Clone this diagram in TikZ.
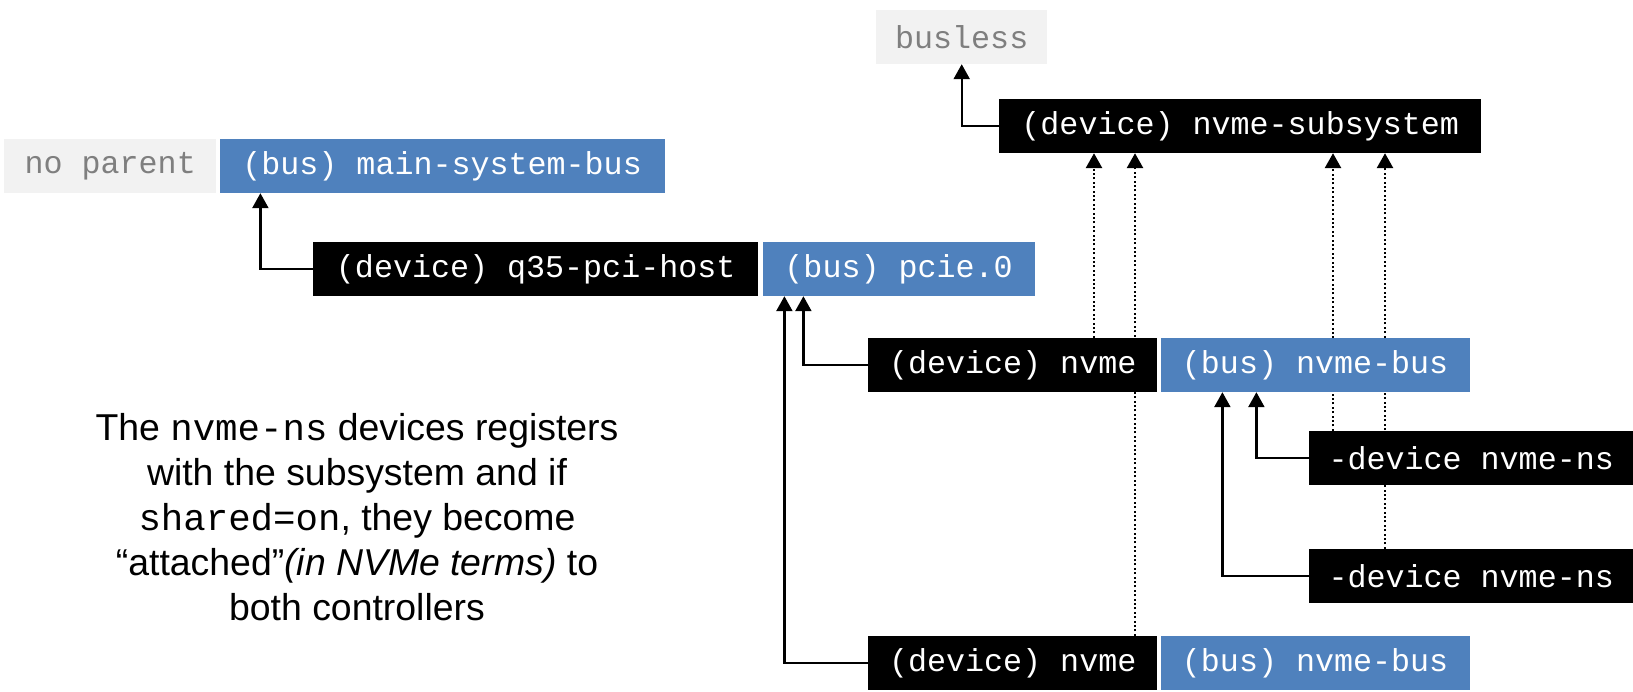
\documentclass[tikz,border=0pt]{standalone}
\usepackage{fontspec}
\setmainfont{Liberation Sans}
\setmonofont{Liberation Mono}
\usetikzlibrary{arrows.meta,positioning,backgrounds}

\definecolor{busblue}{HTML}{4F81BD}
\definecolor{nonefill}{HTML}{F2F2F2}
\definecolor{nonetext}{HTML}{7F7F7F}

\begin{document}
\begin{tikzpicture}[
  x=1pt,y=-1pt,
  >={Triangle[length=15pt,width=16pt]},
  box/.style={anchor=west, inner xsep=0pt, inner ysep=0pt, minimum height=54pt,
    font=\fontsize{31.7}{38}\selectfont\ttfamily},
  dev/.style={box, fill=black, text=white},
  busbox/.style={box, fill=busblue, text=white},
  nobus/.style={box, fill=nonefill, text=nonetext},
  link/.style={->, line width=2.3pt},
  reg/.style={->, line width=2.8pt, dash pattern=on 2pt off 2.4pt},
]
\useasboundingbox (0,0) rectangle (1633,691);

%% ---------- device / bus tree ----------
\node[nobus, minimum width=171pt] (busless) at (876,37) {busless};
\node[dev, minimum width=482pt] (subsys) at (999,126) {(device) nvme-subsystem};

\node[nobus, minimum width=212pt] (noparent) at (4,166) {no parent};
\node[busbox, minimum width=445pt, right=3pt of noparent] (mainbus) {(bus) main-system-bus};

\node[dev, minimum width=445pt] (q35) at (313,269) {(device) q35-pci-host};
\node[busbox, minimum width=272pt, right=4pt of q35] (pcie) {(bus) pcie.0};

\node[dev, minimum width=289pt] (nvmea) at (868,365) {(device) nvme};
\node[busbox, minimum width=309pt, right=3pt of nvmea] (nvmebusa) {(bus) nvme-bus};

\node[dev, minimum width=324pt] (nsa) at (1309,458) {-device nvme-ns};
\node[dev, minimum width=324pt] (nsb) at (1309,576) {-device nvme-ns};

\node[dev, minimum width=289pt] (nvmeb) at (868,663) {(device) nvme};
\node[busbox, minimum width=309pt, right=3pt of nvmeb] (nvmebusb) {(bus) nvme-bus};

%% ---------- parent links, behind the boxes ----------
\begin{scope}[on background layer]
\draw[link] (subsys.west) -| (busless.south);
\draw[link] (q35.west) -| ([xshift=41pt]mainbus.south west);
\draw[link] (nvmea.west) -| ([xshift=41pt]pcie.south west);
\draw[link] (nvmeb.west) -| ([xshift=22pt]pcie.south west);
\draw[link] (nsa.west) -| ([xshift=96pt]nvmebusa.south west);
\draw[link] (nsb.west) -| ([xshift=62pt]nvmebusa.south west);
% registration with the subsystem
\draw[reg] ([xshift=226pt]nvmea.north west) -- ([xshift=95pt]subsys.south west);
\draw[reg] ([xshift=267pt]nvmeb.north west) -- ([xshift=136pt]subsys.south west);
\draw[reg] ([xshift=24pt]nsa.north west) -- ([xshift=334pt]subsys.south west);
\draw[reg] ([xshift=76pt]nsb.north west) -- ([xshift=386pt]subsys.south west);
\end{scope}

%% ---------- note ----------
\node[align=center, font=\fontsize{37.4}{45}\selectfont] (note) at (357,517)
  {The \texttt{nvme-ns} devices registers\\with the subsystem and if\\\texttt{shared=on}, they become\\“attached”\textit{(in NVMe terms)} to\\both controllers};
\end{tikzpicture}
\end{document}
